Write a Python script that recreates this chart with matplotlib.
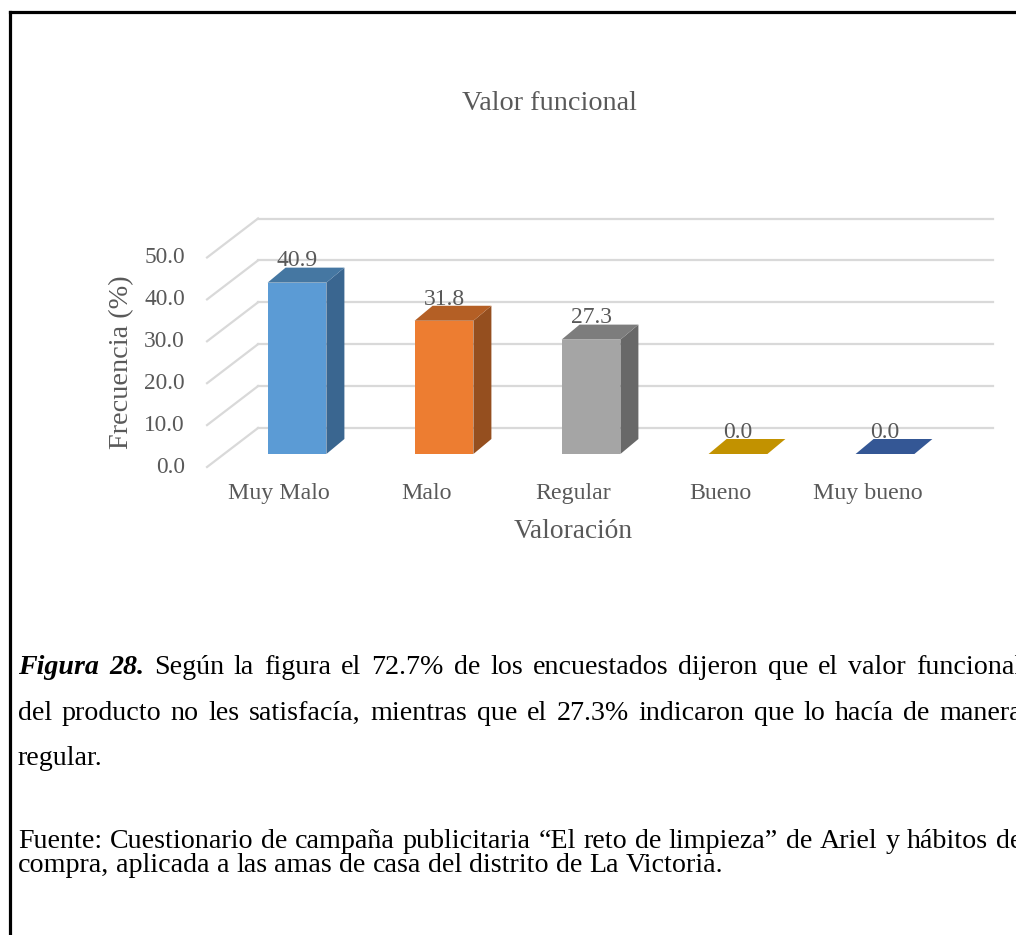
import matplotlib
matplotlib.use("Agg")
from matplotlib import pyplot as plt
from matplotlib.patches import Polygon, Rectangle

plt.rcParams['font.family'] = ['Liberation Serif', 'DejaVu Serif']

# datos del grafico
categorias = ["Muy Malo", "Malo", "Regular", "Bueno", "Muy bueno"]
frecuencia = [40.9, 31.8, 27.3, 0.0, 0.0]
ticks_y = [0, 10, 20, 30, 40, 50]
color_frente = ["#5B9BD5", "#ED7D31", "#A5A5A5", "#FFC000", "#4472C4"]
color_techo = ["#4577A2", "#B45F25", "#7D7D7D", "#C29200", "#345795"]
color_lado = ["#3A6690", "#954F1F", "#686868", "#A17900", "#2B4A7C"]

W, H = 1016, 935
fig = plt.figure(figsize=(W / 100, H / 100), dpi=100)

# capa de fondo en pixeles: marco y textos
fondo = fig.add_axes([0, 0, 1, 1])
fondo.set_xlim(0, W)
fondo.set_ylim(H, 0)
fondo.axis("off")

# escala del grafico: 147 px por categoria, 4.19 px por punto porcentual
X0, Y0, PXC, PXV = 297, 454, 147.0, 4.19
ax = fig.add_axes([0, 0, 1, 1])
ax.set_xlim(-X0 / PXC, (W - X0) / PXC)
ax.set_ylim(-(H - Y0) / PXV, Y0 / PXV)
ax.patch.set_alpha(0)
ax.axis("off")

gris = "#595959"
linea = "#D9D9D9"

# profundidad del piso (frente / fondo) y de las barras
fx, fy = -17 / PXC, -13 / PXV
bx, by = 34 / PXC, 26 / PXV
dx, dy = 18 / PXC, 15 / PXV
ancho = 0.40
izq_fondo = -0.265
der_fondo = 4.735

for v in ticks_y:
    ax.plot([izq_fondo, der_fondo], [v + by, v + by], color=linea, lw=1.6, zorder=1)
    ax.plot([izq_fondo - (bx - fx), izq_fondo], [v + fy, v + by], color=linea, lw=1.6, zorder=1)
    ax.text(izq_fondo - (bx - fx) - 0.15, v + fy, f"{v:.1f}", ha="right", va="center",
            fontsize=16.8, color=gris)

for i, (val, c1, c2, c3) in enumerate(zip(frecuencia, color_frente, color_techo, color_lado)):
    x0, x1 = i - ancho / 2, i + ancho / 2
    if val > 0:
        ax.add_patch(Rectangle((x0, 0), ancho, val, facecolor=c1, edgecolor="none", zorder=3))
        ax.add_patch(Polygon([(x1, 0), (x1 + dx, dy), (x1 + dx, val + dy), (x1, val)],
                             closed=True, facecolor=c3, edgecolor="none", zorder=3))
    ax.add_patch(Polygon([(x0, val), (x1, val), (x1 + dx, val + dy), (x0 + dx, val + dy)],
                         closed=True, facecolor=c2, edgecolor="none", zorder=3))
    ax.text(i, val + dy + 0.3, f"{val:.1f}", ha="center", va="baseline",
            fontsize=17, color=gris, zorder=4)
    ax.text(i - 0.12, -9.5, categorias[i], ha="center", va="center", fontsize=17.2, color=gris)

ax.text(1.88, -18.6, "Valoración", ha="center", va="center", fontsize=19.8, color=gris)
ax.text(-1.19, 21.9, "Frecuencia (%)", ha="center", va="center", rotation=90,
        fontsize=20.3, color=gris)
fondo.text(549, 103, "Valor funcional", ha="center", va="center", fontsize=20.3, color=gris)

# marco superior e izquierdo
fondo.plot([9.5, W + 5], [12, 12], color="black", lw=2.3, solid_capstyle="projecting")
fondo.plot([9.5, 9.5], [12, H + 5], color="black", lw=2.3, solid_capstyle="projecting")

renderer = fig.canvas.get_renderer()


def linea_texto(palabras, y, x_ini, x_fin=None, size=20.2):
    objs = []
    for txt, estilo in palabras:
        t = fondo.text(x_ini, y, txt, ha="left", va="baseline", fontsize=size,
                       color="black", **estilo)
        objs.append(t)
    anchos = [t.get_window_extent(renderer).width for t in objs]
    if x_fin is None:
        sep = fondo.text(0, 0, "a a", fontsize=size)
        sep2 = fondo.text(0, 0, "aa", fontsize=size)
        hueco = sep.get_window_extent(renderer).width - sep2.get_window_extent(renderer).width
        sep.remove()
        sep2.remove()
    else:
        hueco = (x_fin - x_ini - sum(anchos)) / (len(objs) - 1)
    x = x_ini
    for t, a in zip(objs, anchos):
        t.set_x(x)
        x += a + hueco


normal = {}
negrita = {"fontweight": "bold", "fontstyle": "italic"}

l1 = [("Figura", negrita), ("28.", negrita)] + [
    (p, normal) for p in "Según la figura el 72.7% de los encuestados dijeron que el valor funcional".split()]
l2 = [(p, normal) for p in "del producto no les satisfacía, mientras que el 27.3% indicaron que lo hacía de manera".split()]
l3 = [("regular.", normal)]
l4 = [(p, normal) for p in "Fuente: Cuestionario de campaña publicitaria “El reto de limpieza” de Ariel y hábitos de".split()]
l5 = [(p, normal) for p in "compra, aplicada a las amas de casa del distrito de La Victoria.".split()]

linea_texto(l1, 674, 18, 1022)
linea_texto(l2, 720, 18, 1022)
linea_texto(l3, 765, 18)
linea_texto(l4, 848, 18, 1022)
linea_texto(l5, 872, 18)

plt.savefig("out.png", dpi=100)
